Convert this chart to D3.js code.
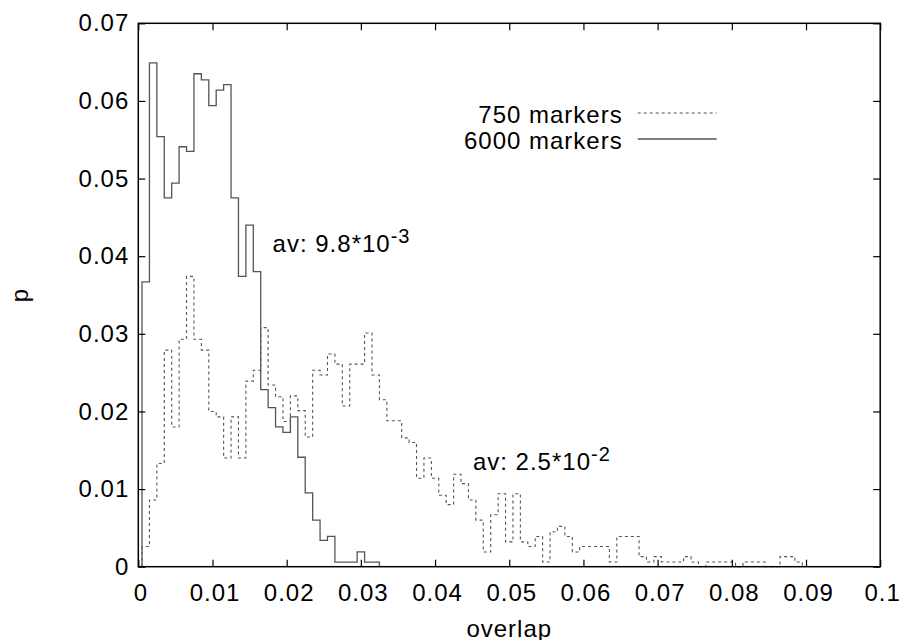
<!DOCTYPE html>
<html>
<head>
<meta charset="utf-8">
<script src="https://cdn.jsdelivr.net/npm/d3@7"></script>
<style>
  body { margin: 0; background: #fff; }
  svg text { font-family: "Liberation Sans", Arial, Helvetica, sans-serif; font-size: 24px; fill: #000; letter-spacing: 1px; }
</style>
</head>
<body>
<div id="chart"></div>
<script>
// histogram bins are 0.001 wide, first bin centred on 0.001
const binWidth = 0.001;

// 6000 markers, p per bin
const markers6000 = [
    0.0367, 0.0649, 0.0554, 0.0475, 0.0494, 0.0541, 0.0535, 0.0635, 0.0627, 0.0594,
    0.0614, 0.0621, 0.0475, 0.0374, 0.0440, 0.0380, 0.0228, 0.0205, 0.0180, 0.0173,
    0.0193, 0.0141, 0.0095, 0.0060, 0.0034, 0.0039, 0.0006, 0.0006, 0.0006, 0.0019,
    0.0006, 0.0006
];

// 750 markers, p per bin
const markers750 = [
    0.0026, 0.0086, 0.0133, 0.0279, 0.0180, 0.0293, 0.0374, 0.0293, 0.0279, 0.0200,
    0.0193, 0.0140, 0.0193, 0.0140, 0.0239, 0.0253, 0.0308, 0.0234, 0.0219, 0.0187,
    0.0220, 0.0201, 0.0167, 0.0253, 0.0247, 0.0274, 0.0261, 0.0207, 0.0261, 0.0261,
    0.0301, 0.0247, 0.0215, 0.0188, 0.0188, 0.0166, 0.0160, 0.0114, 0.0140, 0.0114,
    0.0092, 0.0080, 0.0119, 0.0107, 0.0086, 0.0060, 0.0019, 0.0067, 0.0094, 0.0032,
    0.0094, 0.0032, 0.0026, 0.0039, 0.0006, 0.0045, 0.0052, 0.0039, 0.0019, 0.0026,
    0.0026, 0.0026, 0.0026, 0.0006, 0.0039, 0.0039, 0.0039, 0.0013, 0.0006, 0.0013,
    0.0006, 0.0006, 0.0006, 0.0013, 0.0006, 0,      0.0006, 0.0006, 0.0006, 0.0006,
    0,      0.0006, 0.0006, 0.0006, 0,      0,      0.0013, 0.0013, 0.0006
];

const xTickValues = [0, 0.01, 0.02, 0.03, 0.04, 0.05, 0.06, 0.07, 0.08, 0.09, 0.1];
const xTickLabels = ["0", "0.01", "0.02", "0.03", "0.04", "0.05", "0.06", "0.07", "0.08", "0.09", "0.1"];
const yTickValues = [0, 0.01, 0.02, 0.03, 0.04, 0.05, 0.06, 0.07];
const yTickLabels = ["0", "0.01", "0.02", "0.03", "0.04", "0.05", "0.06", "0.07"];

const seriesNames = ["750 markers", "6000 markers"];
const averages = [
    { base: "av: 2.5*10", exp: "-2", x: 0.0451, y: 0.0124 },
    { base: "av: 9.8*10", exp: "-3", x: 0.0181, y: 0.0406 }
];

const width = 901, height = 640;
const margin = { top: 23.3, right: 20.8, bottom: 73.3, left: 138.3 };

const svg = d3.select("#chart").append("svg")
    .attr("width", width)
    .attr("height", height);

const x = d3.scaleLinear().domain([0, 0.1]).range([margin.left, width - margin.right]);
const y = d3.scaleLinear().domain([0, 0.07]).range([height - margin.bottom, margin.top]);

// step outline like gnuplot "histeps"
function stepPoints(values) {
    const pts = [[binWidth / 2, 0]];
    values.forEach((v, i) => {
        pts.push([(i + 0.5) * binWidth, v]);
    });
    const end = (values.length + 0.5) * binWidth;
    pts.push([end, values[values.length - 1]]);
    pts.push([end, 0]);
    return pts;
}

const line = d3.line()
    .x(d => x(d[0]))
    .y(d => y(d[1]))
    .curve(d3.curveStepAfter);

svg.append("path")
    .attr("d", line(stepPoints(markers750)))
    .attr("fill", "none")
    .attr("stroke", "#555")
    .attr("stroke-width", 1.1)
    .attr("stroke-dasharray", "3,3");

svg.append("path")
    .attr("d", line(stepPoints(markers6000)))
    .attr("fill", "none")
    .attr("stroke", "#555")
    .attr("stroke-width", 1.3);

// axes, ticks pointing inward on all four sides
const plotBottom = height - margin.bottom;
const plotRight = width - margin.right;

svg.append("g")
    .attr("class", "x-axis")
    .attr("transform", `translate(0,${plotBottom})`)
    .call(d3.axisBottom(x).tickValues(xTickValues)
        .tickFormat((d, i) => xTickLabels[i]).tickSize(-7).tickSizeOuter(0).tickPadding(17));

svg.append("g")
    .attr("transform", `translate(0,${margin.top})`)
    .call(d3.axisTop(x).tickValues(xTickValues).tickFormat("").tickSize(-7).tickSizeOuter(0));

svg.append("g")
    .attr("transform", `translate(${margin.left},0)`)
    .call(d3.axisLeft(y).tickValues(yTickValues)
        .tickFormat((d, i) => yTickLabels[i]).tickSize(-7).tickSizeOuter(0).tickPadding(9));

svg.append("g")
    .attr("transform", `translate(${plotRight},0)`)
    .call(d3.axisRight(y).tickValues(yTickValues).tickFormat("").tickSize(-7).tickSizeOuter(0));

svg.selectAll(".tick line").attr("stroke", "#000").attr("stroke-width", 1.2);
svg.selectAll(".domain").remove();
svg.selectAll(".tick text").attr("font-size", 24).attr("font-family", null);
svg.selectAll(".x-axis .tick text").attr("dx", 2);

svg.append("rect")
    .attr("x", margin.left)
    .attr("y", margin.top)
    .attr("width", plotRight - margin.left)
    .attr("height", plotBottom - margin.top)
    .attr("fill", "none")
    .attr("stroke", "#000")
    .attr("stroke-width", 1.5);

// axis titles
svg.append("text")
    .attr("transform", `translate(28,${(margin.top + plotBottom) / 2}) rotate(-90)`)
    .attr("text-anchor", "middle")
    .text("p");

svg.append("text")
    .attr("x", (margin.left + plotRight) / 2)
    .attr("y", 637)
    .attr("text-anchor", "middle")
    .text("overlap");

// legend
const legendY = [113, 139];
seriesNames.forEach((name, i) => {
    svg.append("text")
        .attr("x", 622.7)
        .attr("y", legendY[i] + 10)
        .attr("text-anchor", "end")
        .text(name);
    svg.append("line")
        .attr("x1", 637.7)
        .attr("x2", 716.7)
        .attr("y1", legendY[i])
        .attr("y2", legendY[i])
        .attr("stroke", "#555")
        .attr("stroke-width", i === 0 ? 1.1 : 1.3)
        .attr("stroke-dasharray", i === 0 ? "3,3" : null);
});

// average annotations
averages.forEach(a => {
    const t = svg.append("text")
        .attr("x", x(a.x))
        .attr("y", y(a.y));
    t.append("tspan").text(a.base);
    t.append("tspan")
        .attr("dy", -9)
        .attr("font-size", 20)
        .text(a.exp);
});
</script>
</body>
</html>
